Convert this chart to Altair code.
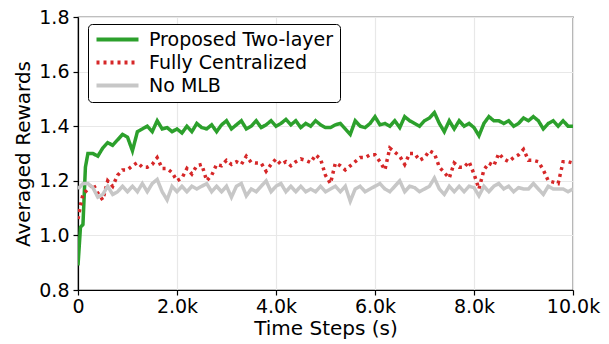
import altair as alt
import pandas as pd

TIME = [0, 50, 100, 150, 200] + list(range(300, 10001, 100))

PROPOSED = [
    0.89, 1.03, 1.04, 1.25, 1.30,
    1.30, 1.29, 1.32, 1.34, 1.33, 1.35, 1.37, 1.36, 1.31, 1.38, 1.39, 1.40, 1.38, 1.42,
    1.39, 1.395, 1.38, 1.39, 1.375, 1.40, 1.38, 1.41, 1.395, 1.39, 1.405, 1.38, 1.405, 1.42, 1.39, 1.405, 1.42,
    1.39, 1.40, 1.42, 1.395, 1.405, 1.42, 1.40, 1.41, 1.425, 1.405, 1.42, 1.395, 1.41, 1.40, 1.42, 1.405, 1.395,
    1.395, 1.405, 1.41, 1.39, 1.37, 1.42, 1.40, 1.395, 1.41, 1.435, 1.405, 1.41, 1.40, 1.42, 1.395, 1.435, 1.42,
    1.41, 1.40, 1.42, 1.43, 1.45, 1.41, 1.38, 1.42, 1.39, 1.42, 1.40, 1.41, 1.395, 1.365, 1.41, 1.435, 1.42,
    1.42, 1.41, 1.42, 1.40, 1.41, 1.43, 1.42, 1.435, 1.42, 1.39, 1.41, 1.42, 1.40, 1.42, 1.40, 1.40,
]

CENTRALIZED = [
    1.06, 1.11, 1.15, 1.16, 1.17,
    1.19, 1.155, 1.13, 1.20, 1.18, 1.22, 1.24, 1.24, 1.255, 1.267, 1.25, 1.25, 1.26, 1.285,
    1.245, 1.245, 1.23, 1.20, 1.21, 1.245, 1.225, 1.255, 1.26, 1.20, 1.22, 1.26, 1.255, 1.275, 1.26, 1.27, 1.26,
    1.29, 1.267, 1.265, 1.265, 1.235, 1.26, 1.28, 1.26, 1.27, 1.255, 1.27, 1.28, 1.275, 1.267, 1.295, 1.28, 1.22,
    1.19, 1.265, 1.255, 1.24, 1.255, 1.27, 1.285, 1.285, 1.295, 1.295, 1.27, 1.24, 1.32, 1.305, 1.29, 1.26, 1.30,
    1.30, 1.275, 1.285, 1.31, 1.30, 1.25, 1.23, 1.21, 1.265, 1.25, 1.25, 1.27, 1.225, 1.17, 1.24, 1.265, 1.255,
    1.30, 1.28, 1.27, 1.285, 1.295, 1.315, 1.275, 1.275, 1.27, 1.24, 1.20, 1.195, 1.19, 1.27, 1.27, 1.265,
]

NO_MLB = [
    1.17, 1.18, 1.19, 1.19, 1.19,
    1.175, 1.14, 1.15, 1.18, 1.15, 1.16, 1.18, 1.16, 1.18, 1.16, 1.19, 1.16, 1.19, 1.205,
    1.16, 1.13, 1.18, 1.16, 1.18, 1.16, 1.18, 1.17, 1.18, 1.19, 1.16, 1.18, 1.16, 1.18, 1.14, 1.18, 1.19,
    1.145, 1.17, 1.16, 1.18, 1.20, 1.16, 1.18, 1.19, 1.16, 1.18, 1.16, 1.18, 1.16, 1.17, 1.16, 1.18, 1.16,
    1.17, 1.18, 1.16, 1.18, 1.125, 1.17, 1.18, 1.16, 1.17, 1.18, 1.19, 1.17, 1.16, 1.18, 1.20, 1.16, 1.18,
    1.175, 1.16, 1.17, 1.18, 1.21, 1.17, 1.15, 1.18, 1.16, 1.18, 1.16, 1.18, 1.175, 1.145, 1.18, 1.16, 1.18,
    1.19, 1.17, 1.18, 1.16, 1.175, 1.17, 1.17, 1.19, 1.17, 1.15, 1.18, 1.17, 1.17, 1.17, 1.16, 1.17,
]

SERIES = ["Proposed Two-layer", "Fully Centralized", "No MLB"]
COLORS = ["#2ca02c", "#d62728", "#c7c7c7"]
DASHES = [[1, 0], [3, 4], [1, 0]]
X_TICKS = [0, 2000, 4000, 6000, 8000, 10000]
Y_TICKS = [0.8, 1.0, 1.2, 1.4, 1.6, 1.8]

rows = []
for name, vals in zip(SERIES, [PROPOSED, CENTRALIZED, NO_MLB]):
    for t, v in zip(TIME, vals):
        rows.append({"t": t, "v": v, "series": name})
df = pd.DataFrame(rows)

FONT = "DejaVu Sans"

legend = alt.Legend(
    title=None,
    orient="none",
    legendX=10,
    legendY=7,
    symbolType="M-1,0H5",
    symbolSize=196,
    symbolStrokeWidth=4,
    labelFontSize=19,
    labelFont=FONT,
    labelColor="black",
    labelLimit=0,
    labelOffset=36,
    rowPadding=3,
    padding=6,
    strokeColor="black",
    fillColor="white",
    cornerRadius=4,
)

chart = (
    alt.Chart(df)
    .mark_line(strokeWidth=3.5, strokeCap="butt", clip=True)
    .encode(
        x=alt.X(
            "t:Q",
            scale=alt.Scale(domain=[0, 10000], nice=False),
            axis=alt.Axis(
                values=X_TICKS,
                labelExpr="datum.value == 0 ? '0' : format(datum.value / 1000, '.1f') + 'k'",
                title="Time Steps (s)",
                labelFlush=False,
                labelPadding=2,
                titlePadding=2,
            ),
        ),
        y=alt.Y(
            "v:Q",
            scale=alt.Scale(domain=[0.8, 1.8], nice=False),
            axis=alt.Axis(values=Y_TICKS, format=".1f", title="Averaged Rewards",
                          labelFlush=False, labelPadding=4, titlePadding=5),
        ),
        color=alt.Color("series:N", scale=alt.Scale(domain=SERIES, range=COLORS), legend=legend),
        strokeDash=alt.StrokeDash("series:N", scale=alt.Scale(domain=SERIES, range=DASHES), legend=legend),
    )
    .properties(
        width=495,
        height=273,
        autosize=alt.AutoSizeParams(type="none"),
        padding={"left": 70, "top": 9, "right": 28, "bottom": 52},
    )
    .configure_view(stroke="black", strokeWidth=1.2)
    .configure_axis(
        labelFont=FONT,
        titleFont=FONT,
        labelFontSize=19,
        titleFontSize=20,
        titleFontWeight="normal",
        labelColor="black",
        titleColor="black",
        domainColor="black",
        domainWidth=1.2,
        tickColor="black",
        tickSize=5,
        tickWidth=1.2,
        gridColor="#e8e8e8",
        gridWidth=1.2,
    )
)

chart.save("out.html", embed_options={"renderer": "svg", "actions": False})
